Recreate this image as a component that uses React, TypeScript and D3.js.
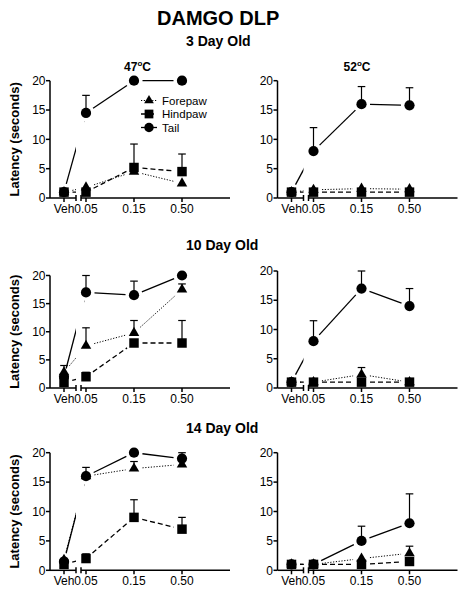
import React from "react";
import * as d3 from "d3";

// ---------- data ----------
const categories = ["Veh", "0.05", "0.15", "0.50"];
const doseCategories = ["0.05", "0.15", "0.50"];
const yTicks = [0, 5, 10, 15, 20];
const seriesNames = ["Forepaw", "Hindpaw", "Tail"];
const ageTitles = ["3 Day Old", "10 Day Old", "14 Day Old"];
const tempLabels = ["47", "52"];
const mainTitle = "DAMGO DLP";
const yAxisTitle = "Latency (seconds)";

// 3 day old
const d3T47Fore = [1, 1.8, 4.5, 2.5];
const d3T47ForeErr = [0, 0, 0, 0];
const d3T47Hind = [1, 1, 5.2, 4.5];
const d3T47HindErr = [0, 0, 4, 3];
const d3T47Tail = [1, 14.5, 20, 20];
const d3T47TailErr = [0, 3, 0, 0];

const d3T52Fore = [1, 1.4, 1.6, 1.5];
const d3T52ForeErr = [0, 0, 0, 0];
const d3T52Hind = [1, 1, 1, 1];
const d3T52HindErr = [0, 0, 0, 0];
const d3T52Tail = [1, 8, 16, 15.8];
const d3T52TailErr = [0, 4, 3, 3];

// 10 day old
const d10T47Fore = [2.8, 7.5, 9.8, 17.5];
const d10T47ForeErr = [1.2, 3.2, 2.2, 1];
const d10T47Hind = [1, 2, 8, 8];
const d10T47HindErr = [0, 0.8, 0, 4];
const d10T47Tail = [2, 17, 16.5, 20];
const d10T47TailErr = [0, 3, 2.5, 0];

const d10T52Fore = [1, 1, 2.3, 1];
const d10T52ForeErr = [0, 0, 1.2, 0];
const d10T52Hind = [1, 1, 1, 1];
const d10T52HindErr = [0, 0, 0, 0];
const d10T52Tail = [1, 8, 17, 14];
const d10T52TailErr = [0, 3.5, 3, 3];

// 14 day old
const d14T47Fore = [1.8, 16, 17.3, 18];
const d14T47ForeErr = [0, 0, 1.2, 0];
const d14T47Hind = [1, 2, 9, 7];
const d14T47HindErr = [0, 0.8, 3, 2];
const d14T47Tail = [1.5, 16, 20, 19];
const d14T47TailErr = [0, 1.5, 0, 1];

const d14T52Fore = [1, 1, 2, 2.9];
const d14T52ForeErr = [0, 0, 0, 1.2];
const d14T52Hind = [1, 1, 1, 1.5];
const d14T52HindErr = [0, 0, 0, 0];
const d14T52Tail = [1, 1, 5, 8];
const d14T52TailErr = [0, 0, 2.5, 5];

type Series = { name: string; values: number[]; errs: number[] };
const mk = (f: number[], fe: number[], h: number[], he: number[], t: number[], te: number[]): Series[] => [
  { name: seriesNames[0], values: f, errs: fe },
  { name: seriesNames[1], values: h, errs: he },
  { name: seriesNames[2], values: t, errs: te },
];

const panelData: Series[][][] = [
  [mk(d3T47Fore, d3T47ForeErr, d3T47Hind, d3T47HindErr, d3T47Tail, d3T47TailErr),
   mk(d3T52Fore, d3T52ForeErr, d3T52Hind, d3T52HindErr, d3T52Tail, d3T52TailErr)],
  [mk(d10T47Fore, d10T47ForeErr, d10T47Hind, d10T47HindErr, d10T47Tail, d10T47TailErr),
   mk(d10T52Fore, d10T52ForeErr, d10T52Hind, d10T52HindErr, d10T52Tail, d10T52TailErr)],
  [mk(d14T47Fore, d14T47ForeErr, d14T47Hind, d14T47HindErr, d14T47Tail, d14T47TailErr),
   mk(d14T52Fore, d14T52ForeErr, d14T52Hind, d14T52HindErr, d14T52Tail, d14T52TailErr)],
];

// ---------- layout ----------
const FONT = "'Liberation Sans', Arial, Helvetica, sans-serif";
const colX0 = [50, 277.5];
const rowLayout = [
  { bottom: 198, top: [80.7, 80.7], title: 46 },
  { bottom: 388, top: [275.5, 271], title: 250 },
  { bottom: 570.3, top: [452.7, 452.7], title: 433 },
];
const seriesStyle: Record<string, { dash: string | undefined; width: number; symbol: any; size: number }> = {
  Forepaw: { dash: "1.2,1.6", width: 1, symbol: d3.symbolTriangle, size: 48 },
  Hindpaw: { dash: "5,3", width: 1.3, symbol: d3.symbolSquare, size: 90 },
  Tail: { dash: undefined, width: 1.3, symbol: d3.symbolCircle, size: 82 },
};
const drawOrder = ["Tail", "Forepaw", "Hindpaw"];

function Panel({ row, col }: { row: number; col: number }) {
  const x0 = colX0[col];
  const yBottom = rowLayout[row].bottom;
  const yTop = rowLayout[row].top[col];
  const series = panelData[row][col];
  const clipId = `clip-${row}-${col}`;

  const breakL = x0 + 26;
  const breakR = x0 + 31;
  const axisEnd = x0 + 180;

  const vehScale = d3.scalePoint<string>().domain(["Veh"]).range([x0, x0 + 28]).padding(0.5);
  const doseScale = d3.scalePoint<string>().domain(doseCategories).range([x0 + 36, x0 + 132]);
  const xPos = (c: string) => (c === "Veh" ? (vehScale(c) as number) : (doseScale(c) as number));
  const y = d3.scaleLinear().domain([0, 20]).range([yBottom, yTop]);

  const trim = 8.5;
  const sym = (name: string) => d3.symbol().type(seriesStyle[name].symbol).size(seriesStyle[name].size)() as string;

  const ordered = drawOrder.map((n) => series.find((s) => s.name === n)!);
  const lineClipR = breakR + 3;

  return (
    <g>
      <defs>
        <clipPath id={clipId}>
          <rect x={x0} y={yTop - 20} width={breakL - x0} height={yBottom - yTop + 40} />
          <rect x={lineClipR} y={yTop - 20} width={axisEnd - lineClipR + 10} height={yBottom - yTop + 40} />
        </clipPath>
      </defs>
      {/* lines */}
      <g clipPath={`url(#${clipId})`}>
        {ordered.map((s) =>
          categories.slice(0, -1).map((c, i) => {
            const xa = xPos(c), ya = y(s.values[i]);
            const xb = xPos(categories[i + 1]), yb = y(s.values[i + 1]);
            const dx = xb - xa, dy = yb - ya;
            const len = Math.hypot(dx, dy);
            if (len <= trim * 2) return null;
            const ux = dx / len, uy = dy / len;
            const st = seriesStyle[s.name];
            return (
              <line key={s.name + i} x1={xa + ux * trim} y1={ya + uy * trim} x2={xb - ux * trim} y2={yb - uy * trim}
                stroke="#000" strokeWidth={st.width} strokeDasharray={st.dash} />
            );
          })
        )}
      </g>
      {/* error bars */}
      {ordered.map((s) =>
        categories.map((c, i) =>
          s.errs[i] > 0 ? (
            <g key={"e" + s.name + i} stroke="#000" strokeWidth={1.2}>
              <line x1={xPos(c)} x2={xPos(c)} y1={y(s.values[i])} y2={y(s.values[i] + s.errs[i])} />
              <line x1={xPos(c) - 3.8} x2={xPos(c) + 3.8} y1={y(s.values[i] + s.errs[i])} y2={y(s.values[i] + s.errs[i])} />
            </g>
          ) : null
        )
      )}
      {/* markers */}
      {ordered.map((s) =>
        categories.map((c, i) => (
          <path key={"m" + s.name + i} d={sym(s.name)} transform={`translate(${xPos(c)},${y(s.values[i])})`} fill="#000" />
        ))
      )}
      {/* y axis */}
      <line x1={x0} x2={x0} y1={yBottom} y2={yTop} stroke="#000" strokeWidth={1.5} />
      {yTicks.map((t) => (
        <g key={"yt" + t}>
          <line x1={x0 - 4} x2={x0} y1={y(t)} y2={y(t)} stroke="#000" strokeWidth={1.5} />
          <text x={x0 - 4.5} y={y(t) + 4.2} textAnchor="end" fontSize={12} fontFamily={FONT}>{t}</text>
        </g>
      ))}
      {/* x axis with break */}
      <line x1={x0} x2={breakL} y1={yBottom} y2={yBottom} stroke="#000" strokeWidth={1.5} />
      <line x1={breakR} x2={axisEnd} y1={yBottom} y2={yBottom} stroke="#000" strokeWidth={1.5} />
      <line x1={breakL} x2={breakL} y1={yBottom - 3} y2={yBottom + 3} stroke="#000" strokeWidth={1.5} />
      <line x1={breakR} x2={breakR} y1={yBottom - 3} y2={yBottom + 3} stroke="#000" strokeWidth={1.5} />
      {categories.map((c) => (
        <g key={"xt" + c}>
          <line x1={xPos(c)} x2={xPos(c)} y1={yBottom} y2={yBottom + 4} stroke="#000" strokeWidth={1.5} />
          <text x={xPos(c)} y={yBottom + 14.5} textAnchor="middle" fontSize={12} fontFamily={FONT}>{c}</text>
        </g>
      ))}
      {col === 0 && (
        <text transform={`translate(${x0 - 31},${(yBottom + yTop) / 2}) rotate(-90)`} textAnchor="middle"
          fontSize={13} fontWeight="bold" fontFamily={FONT}>{yAxisTitle}</text>
      )}
    </g>
  );
}

function Legend({ x, y0 }: { x: number; y0: number }) {
  const rowGap = 13.5;
  return (
    <g>
      {seriesNames.map((n, i) => {
        const st = seriesStyle[n];
        const yy = y0 + i * rowGap;
        return (
          <g key={n}>
            <line x1={x - 8} x2={x + 8} y1={yy} y2={yy} stroke="#000" strokeWidth={st.width} strokeDasharray={st.dash} />
            <path d={d3.symbol().type(st.symbol).size(st.size * 0.85)() as string} transform={`translate(${x},${yy})`} fill="#000" />
            <text x={x + 13} y={yy + 4} fontSize={11.5} fontFamily={FONT}>{n}</text>
          </g>
        );
      })}
    </g>
  );
}

export default function App() {
  return (
    <svg width={468} height={600} style={{ position: "absolute", left: 0, top: 0, background: "#fff" }}>
      <rect width={468} height={600} fill="#fff" />
      <text x={157} y={25} fontSize={20} fontWeight="bold" fontFamily={FONT}>{mainTitle}</text>
      {ageTitles.map((t, r) => (
        <text key={t} x={186} y={rowLayout[r].title} fontSize={14} fontWeight="bold" fontFamily={FONT}>{t}</text>
      ))}
      {tempLabels.map((t, c) => (
        <text key={t} x={c === 0 ? 137.5 : 357} y={70.7} textAnchor="middle" fontSize={12} fontWeight="bold" fontFamily={FONT}>
          {t}<tspan dy={-4.5} fontSize={8}>o</tspan><tspan dy={4.5}>C</tspan>
        </text>
      ))}
      {[0, 1, 2].map((r) => [0, 1].map((c) => <Panel key={`${r}-${c}`} row={r} col={c} />))}
      <Legend x={149} y0={100.5} />
    </svg>
  );
}
